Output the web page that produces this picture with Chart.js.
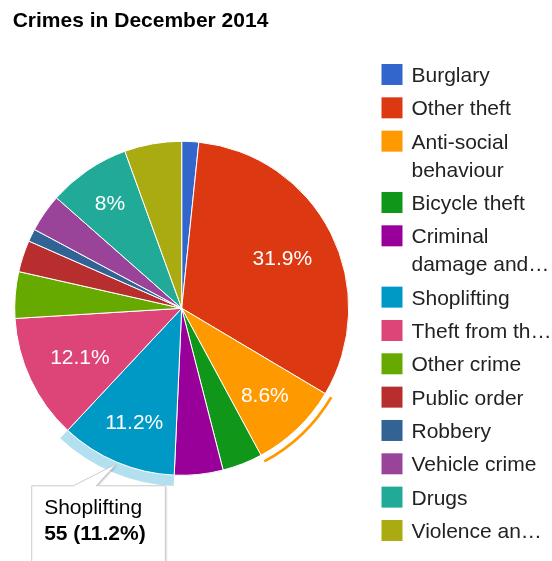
<!DOCTYPE html>
<html>
<head>
<meta charset="utf-8">
<title>Crimes in December 2014</title>
<script src="https://cdn.jsdelivr.net/npm/chart.js@4.4.1/dist/chart.umd.min.js"></script>
<style>
  html, body { margin: 0; padding: 0; background: #fff; }
  #box { width: 552px; height: 561px; position: relative; overflow: hidden; }
</style>
</head>
<body>
<div id="box"><canvas id="crimes" width="552" height="561"></canvas></div>
<script>
var chartTitle = 'Crimes in December 2014';
var categories = ['Burglary', 'Other theft', 'Anti-social behaviour', 'Bicycle theft',
  'Criminal damage and arson', 'Shoplifting', 'Theft from the person', 'Other crime',
  'Public order', 'Robbery', 'Vehicle crime', 'Drugs', 'Violence and sexual offences'];
var counts = [8, 156, 42, 19, 23, 55, 59, 22, 15, 6, 18, 39, 27];
var colours = ['#3366cc', '#dc3912', '#ff9900', '#109618', '#990099', '#0099c6', '#dd4477',
  '#66aa00', '#b82e2e', '#316395', '#994499', '#22aa99', '#aaaa11'];
// legend text as it fits in the side column
var legendLines = [['Burglary'], ['Other theft'], ['Anti-social', 'behaviour'], ['Bicycle theft'],
  ['Criminal', 'damage and\u2026'], ['Shoplifting'], ['Theft from th\u2026'], ['Other crime'],
  ['Public order'], ['Robbery'], ['Vehicle crime'], ['Drugs'], ['Violence an\u2026']];
var selectedSlice = 2;   // anti-social behaviour
var hoverSlice = 5;      // shoplifting

var FONT = "'Liberation Sans', Arial, sans-serif";
var total = counts.reduce(function (a, b) { return a + b; }, 0);

function pct(v) {
  var p = Math.round(v / total * 1000) / 10;
  return (p % 1 === 0 ? p.toFixed(0) : p.toFixed(1)) + '%';
}

var extras = {
  id: 'extras',
  afterDatasetsDraw: function (chart) {
    var ctx = chart.ctx;
    var arcs = chart.getDatasetMeta(0).data;
    ctx.save();

    // slice percentages, pushed out until the text box touches an inner circle
    ctx.font = '21px ' + FONT;
    ctx.fillStyle = '#fff';
    ctx.textAlign = 'center';
    ctx.textBaseline = 'alphabetic';
    arcs.forEach(function (arc, i) {
      if (counts[i] / total < 0.07) return;
      var txt = pct(counts[i]);
      var hw = ctx.measureText(txt).width / 2, hh = 8;
      var R0 = arc.outerRadius * 0.856;
      var a = (arc.startAngle + arc.endAngle) / 2;
      var ux = Math.cos(a), uy = Math.sin(a);
      var b = Math.abs(ux) * hw + Math.abs(uy) * hh;
      var c = hw * hw + hh * hh - R0 * R0;
      var d = -b + Math.sqrt(b * b - c);
      ctx.fillText(txt, arc.x + d * ux, arc.y + d * uy + 7.5);
    });

    // selected slice: thin ring outside
    var s = arcs[selectedSlice];
    ctx.beginPath();
    ctx.arc(s.x, s.y, s.outerRadius + 7, s.startAngle, s.endAngle);
    ctx.strokeStyle = colours[selectedSlice];
    ctx.lineWidth = 2.6;
    ctx.stroke();

    // hovered slice: pale band
    var h = arcs[hoverSlice];
    ctx.beginPath();
    ctx.arc(h.x, h.y, h.outerRadius + 11, h.startAngle, h.endAngle);
    ctx.arc(h.x, h.y, h.outerRadius + 0.5, h.endAngle, h.startAngle, true);
    ctx.closePath();
    ctx.fillStyle = 'rgba(0,153,198,0.3)';
    ctx.fill();

    // tooltip for the hovered slice
    var ma = (h.startAngle + h.endAngle) / 2;
    var tipX = h.x + Math.cos(ma) * (h.outerRadius + 2);
    var tipY = h.y + Math.sin(ma) * (h.outerRadius + 2);
    var line1 = categories[hoverSlice];
    var line2 = counts[hoverSlice] + ' (' + pct(counts[hoverSlice]) + ')';
    ctx.font = '21px ' + FONT;
    var w1 = ctx.measureText(line1).width;
    ctx.font = 'bold 21px ' + FONT;
    var w2 = ctx.measureText(line2).width;
    var bx = tipX - 84.4, by = tipY + 21.7;
    var bw = Math.max(w1, w2) + 32, bh = 90;
    ctx.beginPath();
    ctx.moveTo(bx, by);
    ctx.lineTo(tipX - 42.7, by);
    ctx.lineTo(tipX, tipY);
    ctx.lineTo(tipX - 20, by);
    ctx.lineTo(bx + bw, by);
    ctx.lineTo(bx + bw, by + bh);
    ctx.lineTo(bx, by + bh);
    ctx.closePath();
    ctx.shadowColor = 'rgba(0,0,0,0.25)';
    ctx.shadowBlur = 2;
    ctx.shadowOffsetX = 1;
    ctx.shadowOffsetY = 1;
    ctx.fillStyle = '#fff';
    ctx.fill();
    ctx.shadowColor = 'transparent';
    ctx.strokeStyle = '#cccccc';
    ctx.lineWidth = 1;
    ctx.stroke();
    ctx.fillStyle = '#000';
    ctx.textAlign = 'left';
    ctx.font = '21px ' + FONT;
    ctx.fillText(line1, bx + 12.4, by + 28.3);
    ctx.font = 'bold 21px ' + FONT;
    ctx.fillText(line2, bx + 12.4, by + 54);

    // title
    ctx.fillStyle = '#000';
    ctx.font = 'bold 21px ' + FONT;
    ctx.fillText(chartTitle, 12.7, 26.5);

    // legend on the right
    ctx.font = '21px ' + FONT;
    var y = 74.5;
    legendLines.forEach(function (lines, i) {
      ctx.fillStyle = colours[i];
      ctx.fillRect(381.5, y - 10.5, 21, 21);
      ctx.fillStyle = '#222';
      lines.forEach(function (t, k) {
        ctx.fillText(t, 411.5, y + 7.5 + k * 28);
      });
      y += 33.33 + (lines.length - 1) * 28;
    });
    ctx.restore();
  }
};

new Chart(document.getElementById('crimes'), {
  type: 'pie',
  data: {
    labels: categories,
    datasets: [{
      data: counts,
      backgroundColor: colours,
      borderColor: '#fff',
      borderWidth: 1,
      offset: 0,
      hoverOffset: 0
    }]
  },
  options: {
    responsive: false,
    animation: false,
    events: [],
    layout: { padding: { left: 14.2, top: 140.8, right: 202.8, bottom: 85.2 } },
    plugins: {
      legend: { display: false },
      title: { display: false },
      tooltip: { enabled: false }
    }
  },
  plugins: [extras]
});
</script>
</body>
</html>
